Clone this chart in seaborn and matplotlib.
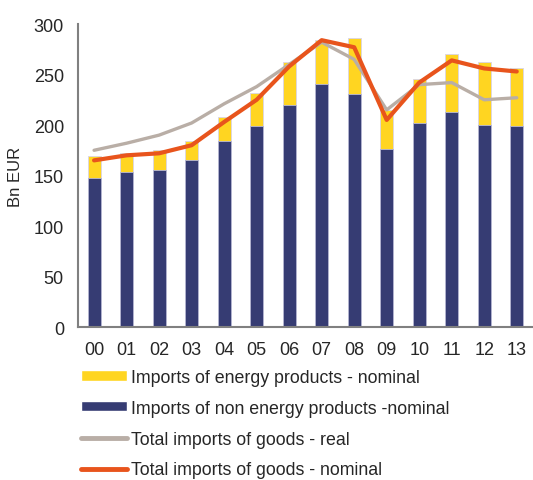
import numpy as np
import pandas as pd
import matplotlib
matplotlib.use('Agg')
import matplotlib.pyplot as plt
import seaborn as sns
from matplotlib.patches import Patch
from matplotlib.lines import Line2D

sns.set_style('white')
plt.rcParams['font.family'] = ['Liberation Sans', 'DejaVu Sans']

# years (two-digit labels)
years = ['00', '01', '02', '03', '04', '05', '06', '07', '08', '09', '10', '11', '12', '13']
# imports of non energy products - nominal (Bn EUR)
non_energy = [148, 153, 155, 165, 184, 199, 220, 241, 231, 176, 202, 213, 200, 199]
# total bar height = non energy + energy (Bn EUR)
bar_total = [169, 172, 175, 184, 208, 232, 262, 284, 286, 215, 246, 270, 262, 256]
# total imports of goods - real / nominal (Bn EUR)
total_real = [175, 182, 190, 202, 221, 238, 260, 282, 265, 215, 240, 242, 225, 227]
total_nominal = [165, 170, 172, 180, 203, 225, 258, 284, 277, 205, 242, 264, 256, 253]

df = pd.DataFrame({'year': years, 'non_energy': non_energy, 'bar_total': bar_total,
                   'real': total_real, 'nominal': total_nominal})
df['pos'] = np.arange(len(years))

c_yellow = '#FFD521'
c_navy = '#363C73'
c_grey = '#B9AEA6'
c_orange = '#E8541C'

fig = plt.figure(figsize=(5.33, 4.81), dpi=100)
ax = fig.add_axes([0.146, 0.318, 0.854, 0.63])

sns.barplot(data=df, x='year', y='bar_total', color=c_yellow, width=0.4,
            saturation=1, edgecolor='#D8D4E8', linewidth=0.6, ax=ax)
sns.barplot(data=df, x='year', y='non_energy', color=c_navy, width=0.4,
            saturation=1, edgecolor='#B8BAD6', linewidth=0.6, ax=ax)
sns.lineplot(data=df, x='pos', y='real', color=c_grey, linewidth=2.4, ax=ax)
sns.lineplot(data=df, x='pos', y='nominal', color=c_orange, linewidth=3, ax=ax)

ax.set_xlim(-0.5, 13.5)
ax.set_ylim(0, 300)
ax.set_yticks(range(0, 301, 50))
ax.set_xlabel('')
ax.set_ylabel('Bn EUR', fontsize=12, labelpad=8)
ax.tick_params(axis='both', labelsize=13, length=0, pad=10)
for s in ['top', 'right']:
    ax.spines[s].set_visible(False)
for s in ['left', 'bottom']:
    ax.spines[s].set_color('#808080')
    ax.spines[s].set_linewidth(1.5)

handles = [Patch(facecolor=c_yellow), Patch(facecolor=c_navy),
           Line2D([], [], color=c_grey, linewidth=3.5),
           Line2D([], [], color=c_orange, linewidth=3.5)]
labels = ['Imports of energy products - nominal',
          'Imports of non energy products -nominal',
          'Total imports of goods - real',
          'Total imports of goods - nominal']
fig.legend(handles, labels, loc='upper left', bbox_to_anchor=(0.138, 0.246),
           frameon=False, fontsize=12.8, handlelength=2.6, handleheight=0.5,
           handletextpad=0.25, labelspacing=0.78, borderaxespad=0)

fig.savefig('out.png', dpi=100)
